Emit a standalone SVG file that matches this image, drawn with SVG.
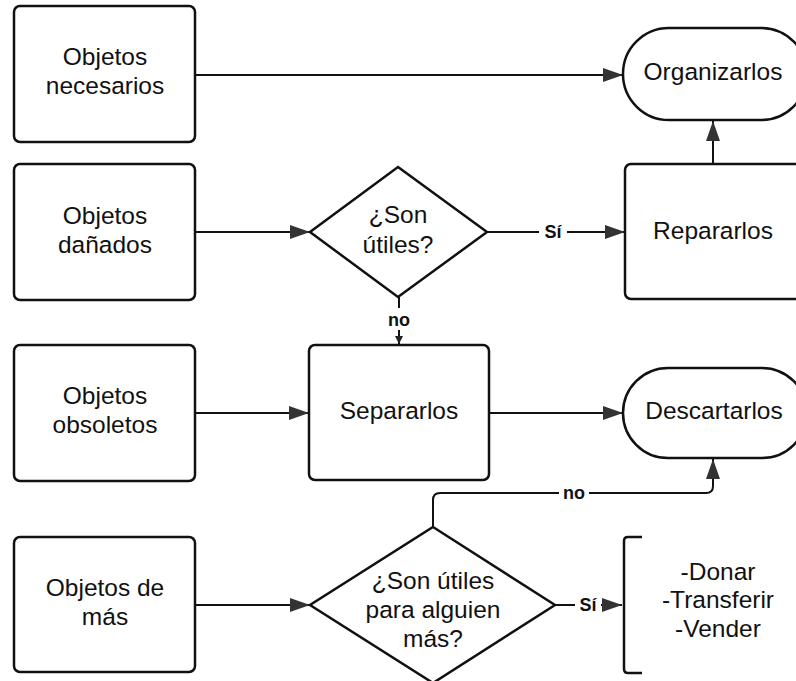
<svg xmlns="http://www.w3.org/2000/svg" width="796" height="681" viewBox="0 0 796 681">
<defs>
<style>
.shape{fill:#fff;stroke:#111;stroke-width:2.5}
.line{fill:none;stroke:#111;stroke-width:2}
.t{font-family:"Liberation Sans",Arial,sans-serif;font-size:24.5px;fill:#111;text-anchor:middle}
.lbl{font-family:"Liberation Sans",Arial,sans-serif;font-size:18px;font-weight:bold;fill:#111;text-anchor:middle}
.lblbg{fill:#fff}
</style>
<marker id="ah" markerUnits="userSpaceOnUse" markerWidth="20" markerHeight="14" refX="20" refY="7" orient="auto">
<path d="M0,0 L20,7 L0,14 Z" fill="#333"/>
</marker>
<marker id="ahs" markerUnits="userSpaceOnUse" markerWidth="8" markerHeight="8" refX="8" refY="4" orient="auto">
<path d="M0,0 L8,4 L0,8 Z" fill="#222"/>
</marker>
</defs>
<rect width="796" height="681" fill="#fff"/>

<g id="connectors">
<path class="line" d="M195,75 L623,75" marker-end="url(#ah)"/>
<path class="line" d="M713,164 L713,121" marker-end="url(#ah)"/>
<path class="line" d="M195,232 L310,232" marker-end="url(#ah)"/>
<path class="line" d="M487,232 L625,232" marker-end="url(#ah)"/>
<rect class="lblbg" x="539" y="221" width="28" height="22"/>
<text class="lbl" x="553" y="238">Sí</text>
<path class="line" d="M399,297 L399,344" marker-end="url(#ahs)"/>
<rect class="lblbg" x="385" y="308" width="28" height="22"/>
<text class="lbl" x="399" y="326">no</text>
<path class="line" d="M433,527 L433,500 Q433,493 440,493 L706,493 Q713,493 713,486 L713,459" marker-end="url(#ah)"/>
<rect class="lblbg" x="559" y="482" width="30" height="22"/>
<text class="lbl" x="574" y="499">no</text>
<path class="line" d="M195,413 L309,413" marker-end="url(#ah)"/>
<path class="line" d="M489,413 L623,413" marker-end="url(#ah)"/>
<path class="line" d="M195,605 L310,605" marker-end="url(#ah)"/>
<path class="line" d="M555,605 L622,605" marker-end="url(#ah)"/>
<rect class="lblbg" x="575" y="594" width="26" height="22"/>
<text class="lbl" x="588" y="611">Sí</text>
</g>

<g id="n-necesarios">
<rect class="shape" x="14" y="6" width="181" height="136" rx="6"/>
<text class="t" x="105" y="65">Objetos</text>
<text class="t" x="105" y="94">necesarios</text>
</g>
<g id="n-organizarlos">
<rect class="shape" x="623" y="28" width="184" height="92" rx="46"/>
<text class="t" x="713" y="80">Organizarlos</text>
</g>
<g id="n-danados">
<rect class="shape" x="14" y="164" width="181" height="136" rx="6"/>
<text class="t" x="105" y="224">Objetos</text>
<text class="t" x="105" y="253">dañados</text>
</g>
<g id="n-utiles">
<polygon class="shape" points="398,167 487,232 398,297 310,232"/>
<text class="t" x="398" y="223">¿Son</text>
<text class="t" x="398" y="253">útiles?</text>
</g>
<g id="n-reparar">
<rect class="shape" x="625" y="164" width="185" height="135" rx="6"/>
<text class="t" x="713" y="239">Repararlos</text>
</g>
<g id="n-obsoletos">
<rect class="shape" x="14" y="345" width="181" height="136" rx="6"/>
<text class="t" x="105" y="404">Objetos</text>
<text class="t" x="105" y="433">obsoletos</text>
</g>
<g id="n-separar">
<rect class="shape" x="309" y="345" width="180" height="135" rx="6"/>
<text class="t" x="399" y="419">Separarlos</text>
</g>
<g id="n-descartar">
<rect class="shape" x="623" y="368" width="184" height="90" rx="45"/>
<text class="t" x="714" y="419">Descartarlos</text>
</g>
<g id="n-demas">
<rect class="shape" x="14" y="537" width="181" height="135" rx="6"/>
<text class="t" x="105" y="596">Objetos de</text>
<text class="t" x="105" y="625">más</text>
</g>
<g id="n-alguien">
<polygon class="shape" points="433,527 555,605 433,683 310,605"/>
<text class="t" x="433" y="589">¿Son útiles</text>
<text class="t" x="433" y="618">para alguien</text>
<text class="t" x="433" y="647">más?</text>
</g>
<g id="n-opciones">
<path class="line" style="stroke-width:2.5" d="M642,537 L628,537 Q624,537 624,541 L624,669 Q624,673 628,673 L642,673"/>
<text class="t" x="718" y="580">-Donar</text>
<text class="t" x="718" y="608">-Transferir</text>
<text class="t" x="718" y="637">-Vender</text>
</g>
</svg>
